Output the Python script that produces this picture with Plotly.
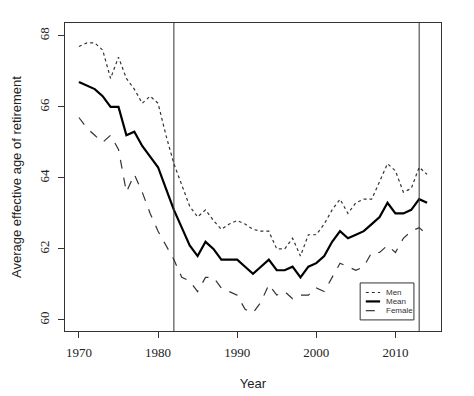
import plotly.graph_objects as go

years = list(range(1970, 2015))
men = [67.7, 67.8, 67.8, 67.6, 66.8, 67.4, 66.8, 66.5, 66.1, 66.3,
       66.1, 65.2, 64.4, 63.8, 63.2, 62.9, 63.1, 62.8, 62.55, 62.7,
       62.8, 62.7, 62.55, 62.5, 62.5, 62.0, 62.0, 62.3, 61.8, 62.4,
       62.4, 62.7, 63.1, 63.4, 63.0, 63.3, 63.4, 63.4, 63.9, 64.4,
       64.2, 63.6, 63.7, 64.3, 64.1]
mean = [66.7, 66.6, 66.5, 66.3, 66.0, 66.0, 65.2, 65.3, 64.9, 64.6,
        64.3, 63.7, 63.1, 62.6, 62.1, 61.8, 62.2, 62.0, 61.7, 61.7,
        61.7, 61.5, 61.3, 61.5, 61.7, 61.4, 61.4, 61.5, 61.2, 61.5,
        61.6, 61.8, 62.2, 62.5, 62.3, 62.4, 62.5, 62.7, 62.9, 63.3,
        63.0, 63.0, 63.1, 63.4, 63.3]
female = [65.7, 65.4, 65.2, 65.0, 65.2, 64.8, 63.6, 64.1, 63.6, 63.0,
          62.5, 62.1, 61.7, 61.2, 61.1, 60.8, 61.2, 61.2, 60.9, 60.8,
          60.7, 60.3, 60.2, 60.5, 61.0, 60.7, 60.8, 60.6, 60.7, 60.7,
          60.9, 60.8, 61.2, 61.6, 61.5, 61.4, 61.5, 61.9, 61.9, 62.1,
          61.9, 62.3, 62.5, 62.6, 62.4]
vlines = [1982, 2013]
xticks = [1970, 1980, 1990, 2000, 2010]
yticks = [60, 62, 64, 66, 68]
series_names = ["Men", "Mean", "Female"]

styles = {
    "Men": dict(color="#333333", width=1.2, dash="dot"),
    "Mean": dict(color="#000000", width=2.2),
    "Female": dict(color="#333333", width=1.2, dash="dash"),
}

fig = go.Figure()
for name, vals in zip(series_names, [men, mean, female]):
    fig.add_trace(go.Scatter(x=years, y=vals, mode="lines", name=name,
                             line=styles[name], showlegend=False))

for v in vlines:
    fig.add_shape(type="line", xref="x", yref="paper", x0=v, x1=v, y0=0, y1=1,
                  line=dict(color="#333333", width=1))

# manual legend box (R-style)
fig.add_shape(type="rect", xref="paper", yref="paper", x0=0.785, x1=0.928,
              y0=0.036, y1=0.156, line=dict(color="#333333", width=1),
              fillcolor="white", layer="above")
legend_y = [0.125, 0.096, 0.066]
for name, ly in zip(series_names, legend_y):
    st = dict(styles[name])
    fig.add_shape(type="line", xref="paper", yref="paper", x0=0.80, x1=0.838,
                  y0=ly, y1=ly, line=st, layer="above")
    fig.add_annotation(xref="paper", yref="paper", x=0.852, y=ly, text=name,
                       showarrow=False, xanchor="left", yanchor="middle",
                       borderpad=0,
                       font=dict(family="Liberation Sans", size=8, color="#333333"))

fig.update_layout(
    width=466, height=388,
    margin=dict(l=57, r=33, t=15, b=65, autoexpand=False),
    paper_bgcolor="white", plot_bgcolor="white",
    showlegend=False,
    xaxis=dict(range=[1968.24, 2015.76], tickvals=xticks, ticks="outside",
               ticklen=6, tickcolor="#333333", showline=True, linecolor="#333333",
               mirror=True, showgrid=False, zeroline=False, automargin=False,
               ticklabelstandoff=3,
               tickfont=dict(family="Liberation Serif", size=13, color="#222222"),
               title=dict(text="Year", font=dict(family="Liberation Sans", size=13, color="#222222"),
                          standoff=20)),
    yaxis=dict(range=[59.69, 68.36], tickvals=yticks, ticks="outside",
               ticklen=6, tickcolor="#333333", showline=True, linecolor="#333333",
               mirror=True, showgrid=False, zeroline=False, tickangle=-90,
               automargin=False, ticklabelstandoff=4,
               tickfont=dict(family="Liberation Serif", size=13, color="#222222"),
               title=dict(text="Average effective age of retirement",
                          font=dict(family="Liberation Sans", size=13, color="#222222"),
                          standoff=12)),
)

fig.write_html("out.html")
